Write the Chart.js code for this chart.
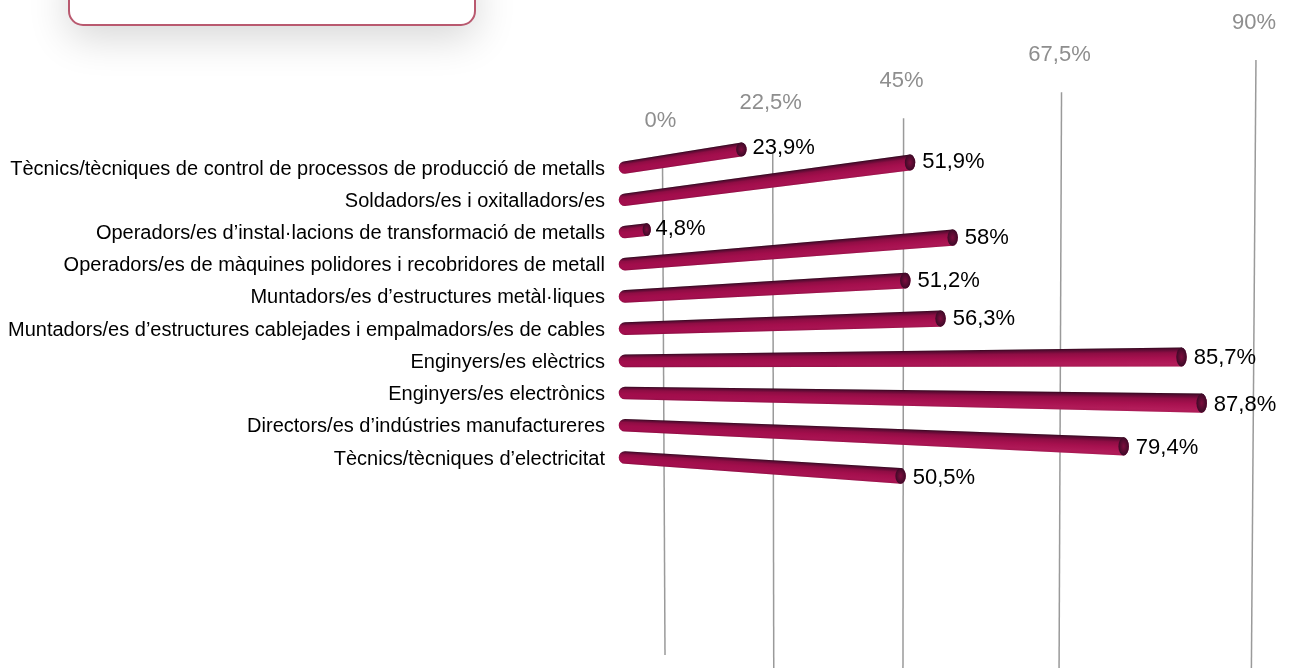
<!DOCTYPE html>
<html><head><meta charset="utf-8">
<script src="https://cdn.jsdelivr.net/npm/chart.js@4/dist/chart.umd.js"></script>
<style>
html,body{margin:0;padding:0;background:#fff;overflow:hidden;width:1293px;height:668px}
#card{position:absolute;left:68px;top:-40px;width:404px;height:62px;border:2px solid #b9596f;border-radius:15px;background:#fff;box-shadow:0 12px 40px rgba(0,0,0,.16)}
canvas{position:absolute;left:0;top:0}
</style></head><body>
<div id="card"></div>
<canvas id="c" width="1293" height="668"></canvas>
<script>
const categories = [
 "Tècnics/tècniques de control de processos de producció de metalls",
 "Soldadors/es i oxitalladors/es",
 "Operadors/es d’instal·lacions de transformació de metalls",
 "Operadors/es de màquines polidores i recobridores de metall",
 "Muntadors/es d’estructures metàl·liques",
 "Muntadors/es d’estructures cablejades i empalmadors/es de cables",
 "Enginyers/es elèctrics",
 "Enginyers/es electrònics",
 "Directors/es d’indústries manufactureres",
 "Tècnics/tècniques d’electricitat"
];
const values = [23.9, 51.9, 4.8, 58, 51.2, 56.3, 85.7, 87.8, 79.4, 50.5];
const axisMax = 90;
const axisStep = 22.5;

const fmt = v => String(v).replace('.', ',') + '%';
// perspective of the original 3D chart
const depth = v => 4.44 * v / (1 - 0.00369 * v);
const wallDepth = v => 4.511 * v / (1 - 0.00351 * v);
const VY = 370, VD = 1305;
function project(x0, y0, v){ const u = depth(v); return {x: x0 + u, y: y0 - (VY - y0) * u / VD, u}; }
const thick = u => 12.6 + 0.0115 * u;

function drawTube(ctx, x0, y0, v){
  const a = project(x0, y0, 0), b = project(x0, y0, v);
  const ta = thick(0) / 2, tb = thick(b.u) / 2, rx = Math.min(5.2, 3.8 + b.u * .012);
  ctx.save();
  ctx.beginPath();
  ctx.moveTo(a.x, a.y - ta);
  ctx.lineTo(b.x, b.y - tb);
  ctx.ellipse(b.x, b.y, rx, tb, 0, -Math.PI/2, Math.PI/2);
  ctx.lineTo(a.x, a.y + ta);
  ctx.ellipse(a.x, a.y, ta, ta, 0, Math.PI/2, Math.PI*1.5);
  ctx.closePath();
  ctx.clip();
  const left = Math.floor(a.x - ta), right = Math.ceil(b.x + rx);
  for (let x = left; x < right; x += 1){
    const f = Math.max(0, (x - a.x) / (b.x - a.x || 1));
    const uu = f * b.u, ff = Math.min(1, f);
    const cy = a.y + (b.y - a.y) * ff, t = ta + (tb - ta) * ff;
    const g = ctx.createLinearGradient(0, cy - t, 0, cy + t);
    const bright = Math.min(1, uu / 520);
    g.addColorStop(0, '#34091f');
    g.addColorStop(.1, '#5a0b33');
    g.addColorStop(.28, '#8f0d44');
    g.addColorStop(.55, `rgb(${161 + bright*6},${13 + bright*4},${75 + bright*4})`);
    g.addColorStop(.85, `rgb(${163 + bright*16},${14 + bright*14},${78 + bright*12})`);
    g.addColorStop(1, `rgb(${142 + bright*30},${12 + bright*16},${66 + bright*20})`);
    ctx.fillStyle = g;
    ctx.fillRect(x, cy - t - 2, 1.2, 2 * t + 4);
  }
  ctx.restore();
  // end cap
  const rg = ctx.createRadialGradient(b.x, b.y, 0, b.x, b.y, tb);
  rg.addColorStop(0, '#7d0d3e');
  rg.addColorStop(1, '#3d0a27');
  ctx.save();
  ctx.translate(b.x, b.y); ctx.scale(rx / tb, 1); ctx.translate(-b.x, -b.y);
  ctx.fillStyle = rg;
  ctx.beginPath(); ctx.arc(b.x, b.y, tb, 0, Math.PI * 2); ctx.fill();
  ctx.restore();
  return {x: b.x + rx, y: b.y, u: b.u};
}

const tubes = {
  id: 'tubes',
  beforeDatasetsDraw(chart){
    const ctx = chart.ctx, xs = chart.scales.x;
    ctx.save();
    xs.ticks.forEach((t, i) => {
      const u = wallDepth(t.value);
      const xt = 662.5 + u, xb = 665 + u * .987;
      const yt = 158 - .165 * u, yb = 655 + .165 * u;
      const lineTop = i === 1 ? yt + 14 : yt; // wall starts lower behind the first bar's label
      const xl = xt + (xb - xt) * (lineTop - yt) / (yb - yt);
      ctx.strokeStyle = '#9a9a9a'; ctx.lineWidth = 1.5;
      ctx.beginPath(); ctx.moveTo(xl, lineTop); ctx.lineTo(xb, yb); ctx.stroke();
      ctx.fillStyle = '#8e8e8e';
      ctx.font = '22px "Liberation Sans"';
      ctx.textAlign = 'center'; ctx.textBaseline = 'middle';
      ctx.fillText(fmt(t.value), xt - 2, yt - 37);
    });
    ctx.restore();
  },
  beforeDatasetDraw(chart, args){
    const ctx = chart.ctx, xs = chart.scales.x, x0 = xs.getPixelForValue(0);
    const meta = args.meta;
    const tips = meta.data.map(el => drawTube(ctx, x0, el.y, xs.getValueForPixel(el.x)));
    ctx.save();
    ctx.fillStyle = '#000';
    ctx.font = '22px "Liberation Sans"';
    ctx.textAlign = 'left'; ctx.textBaseline = 'middle';
    tips.forEach((p, i) => {
      const gap = 4.5 + Math.min(2.5, p.u * .012);
      ctx.fillText(fmt(values[i]), p.x + gap, p.y + .7 + (meta.data[i].y - 330) * .012);
    });
    ctx.restore();
    return false;
  }
};

new Chart(document.getElementById('c'), {
  type: 'bar',
  data: { labels: categories, datasets: [{ data: values, backgroundColor: '#a60e50', barThickness: 12 }] },
  plugins: [tubes],
  options: {
    indexAxis: 'y',
    responsive: false,
    animation: false,
    layout: { padding: { top: 151.4, bottom: 194.4, left: 0, right: 93 } },
    plugins: { legend: { display: false }, tooltip: { enabled: false } },
    scales: {
      x: { type: 'linear', min: 0, max: axisMax, ticks: { stepSize: axisStep, display: false },
           grid: { display: false, drawTicks: false }, border: { display: false } },
      y: { type: 'category', grid: { display: false, drawTicks: false }, border: { display: false },
           afterFit(s){ s.width = 625; },
           ticks: { color: '#000', padding: 20, autoSkip: false, labelOffset: 1.5, font: { family: '"Liberation Sans"', size: 20 } } }
    }
  }
});
</script>
</body></html>
